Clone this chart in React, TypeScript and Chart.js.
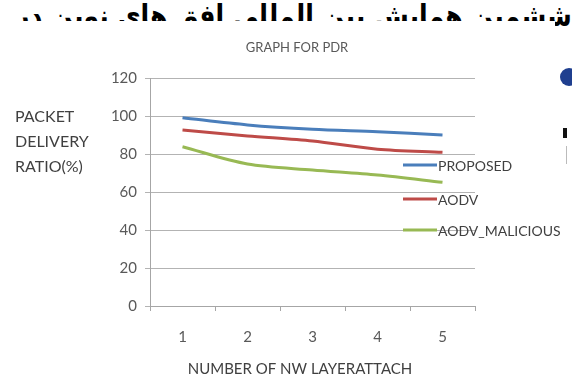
import React, { useEffect, useRef } from "react";
import { Chart, registerables } from "chart.js";

Chart.register(...registerables);

const categories = ["1", "2", "3", "4", "5"];
const proposed = [99.1, 95.3, 93.0, 91.7, 90.0];
const aodv = [92.6, 89.5, 86.8, 82.5, 80.9];
const aodvMalicious = [83.8, 74.7, 71.6, 68.9, 65.1];
const seriesLabels = ["PROPOSED", "AODV", "AODV_MALICIOUS"];
const seriesColors = ["#4A7EBB", "#BE4B48", "#98B954"];
const yMin = 0;
const yMax = 120;
const yStep = 20;
const chartTitle = "GRAPH FOR PDR";
const yAxisLabel = ["PACKET", "DELIVERY", "RATIO(%)"];
const xAxisLabel = "NUMBER OF NW LAYERATTACH";
const headerText = "ششمین همایش بین المللی افق های نوین در";

const FONT = "Lato, 'Open Sans', sans-serif";

const textPlugin = {
  id: "staticTexts",
  afterDraw(chart: any) {
    const ctx = chart.ctx;
    ctx.save();
    // Title
    ctx.fillStyle = "#595959";
    ctx.font = `13px ${FONT}`;
    ctx.textAlign = "center";
    ctx.textBaseline = "middle";
    ctx.fillText(chartTitle, 297, 48);
    // Y axis label (horizontal, three lines)
    ctx.fillStyle = "#404040";
    ctx.font = `16px ${FONT}`;
    ctx.textAlign = "left";
    yAxisLabel.forEach((t, i) => ctx.fillText(t, 15, 117 + i * 25));
    // X axis label
    ctx.font = `15px ${FONT}`;
    ctx.textAlign = "center";
    ctx.fillText(xAxisLabel, 300, 369);
    // Legend
    const legendY = [165, 199, 230];
    chart.data.datasets.forEach((ds: any, i: number) => {
      ctx.strokeStyle = ds.borderColor;
      ctx.lineWidth = 3;
      ctx.beginPath();
      ctx.moveTo(403, legendY[i]);
      ctx.lineTo(437, legendY[i]);
      ctx.stroke();
      ctx.fillStyle = "#404040";
      ctx.font = `14px ${FONT}`;
      ctx.textAlign = "left";
      ctx.fillText(ds.label, 438, legendY[i] + 1);
    });
    ctx.restore();
  },
};

export default function App() {
  const ref = useRef<HTMLCanvasElement | null>(null);

  useEffect(() => {
    if (!ref.current) return;
    const series = [proposed, aodv, aodvMalicious];
    const chart = new Chart(ref.current, {
      type: "line",
      data: {
        labels: categories,
        datasets: series.map((d, i) => ({
          label: seriesLabels[i],
          data: d,
          borderColor: seriesColors[i],
          backgroundColor: seriesColors[i],
          borderWidth: 3,
          pointRadius: 0,
          tension: 0.3,
          fill: false,
        })),
      },
      options: {
        responsive: false,
        animation: false,
        layout: { padding: { top: 78, right: 97, bottom: 0, left: 0 } },
        plugins: {
          legend: { display: false },
          title: { display: false },
          tooltip: { enabled: false },
        },
        scales: {
          x: {
            type: "category",
            offset: true,
            grid: {
              offset: true,
              drawOnChartArea: false,
              drawTicks: true,
              tickLength: 5,
              color: "#A6A6A6",
            },
            border: { color: "#A6A6A6", width: 1 },
            ticks: {
              font: { family: FONT, size: 15 },
              color: "#595959",
              padding: 17,
              maxRotation: 0,
            },
            afterFit: (scale: any) => {
              scale.height = 75;
            },
          },
          y: {
            min: yMin,
            max: yMax,
            ticks: {
              stepSize: yStep,
              font: { family: FONT, size: 15 },
              color: "#595959",
              padding: 8,
            },
            grid: { color: "#B3B3B3", tickLength: 5, lineWidth: 1 },
            border: { color: "#A6A6A6", width: 1 },
            afterFit: (scale: any) => {
              scale.width = 150;
            },
          },
        },
      },
      plugins: [textPlugin],
    });
    return () => chart.destroy();
  }, []);

  return (
    <div
      style={{
        position: "fixed",
        left: 0,
        top: 0,
        width: 572,
        height: 381,
        background: "#fff",
        overflow: "hidden",
      }}
    >
      <div
        dir="rtl"
        style={{
          position: "absolute",
          right: 0,
          top: 1,
          fontFamily: "'DejaVu Sans', sans-serif",
          fontWeight: "bold",
          fontSize: 30,
          lineHeight: "30px",
          color: "#000",
          whiteSpace: "nowrap",
          transform: "scaleX(0.84)",
          transformOrigin: "right top",
        }}
      >
        {headerText}
      </div>
      <div
        style={{
          position: "absolute",
          left: 12,
          top: 21,
          width: 543,
          height: 30,
          background: "#fff",
        }}
      />
      <div
        style={{
          position: "absolute",
          left: 560,
          top: 68,
          width: 18,
          height: 18,
          borderRadius: 9,
          background: "#1F3F8F",
        }}
      />
      <div style={{ position: "absolute", left: 563, top: 128, width: 4, height: 10, background: "#111" }} />
      <div style={{ position: "absolute", left: 566, top: 146, width: 1, height: 18, background: "#BBB" }} />
      <canvas
        ref={ref}
        width={572}
        height={381}
        style={{ position: "absolute", left: 0, top: 0, zIndex: 1 }}
      />
    </div>
  );
}
